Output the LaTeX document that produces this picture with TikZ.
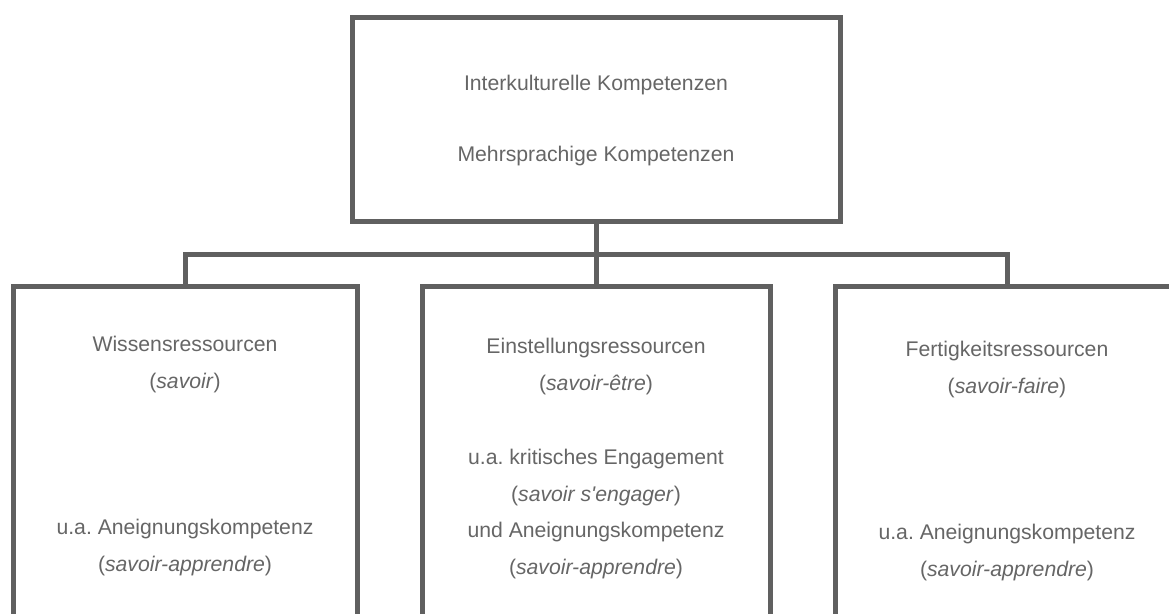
\documentclass[tikz,border=0pt]{standalone}
\usepackage{fontspec}
\newfontfamily\arialfont{Liberation Sans}
\definecolor{linegray}{RGB}{96,96,96}
\definecolor{textgray}{RGB}{102,102,102}
\frenchspacing
\begin{document}
\begin{tikzpicture}[x=1pt,y=-1pt,
  box/.style={draw=linegray,line width=5pt,fill=none,inner sep=0pt,outer sep=0pt},
  conn/.style={draw=linegray,line width=5pt},
  txt/.style={font=\arialfont\frenchspacing\fontsize{21.2}{25}\selectfont,text=textgray,anchor=base,inner sep=0pt}]
\useasboundingbox (0,0) rectangle (1169,613);
\fill[white] (0,0) rectangle (1169,613);
\clip (0,0) rectangle (1169,613);
% boxes
\node[box,minimum width=488pt,minimum height=204pt] (top) at (596,119) {};
\node[box,minimum width=344pt,minimum height=400pt] (left) at (185,486) {};
\node[box,minimum width=348pt,minimum height=400pt] (mid) at (596,486) {};
\node[box,minimum width=344pt,minimum height=400pt] (right) at (1007,486) {};
% connectors
\coordinate (bar) at (596,254);
\draw[conn] (top.south) -- (mid.north);
\draw[conn] (left.north) |- (bar) -| (right.north);
% texts top
\node[txt] (t1) at (596,90) {Interkulturelle Kompetenzen};
\node[txt] (t2) at (596,161) {Mehrsprachige Kompetenzen};
% left
\node[txt] (l1) at (185,351) {Wissensressourcen};
\node[txt] (l2) at (185,388) {(\textit{savoir})};
\node[txt] (l3) at (185,534) {u.a. Aneignungskompetenz};
\node[txt] (l4) at (185,571) {(\textit{savoir-apprendre})};
% middle
\node[txt] (m1) at (596,353) {Einstellungsressourcen};
\node[txt] (m2) at (596,390) {(\textit{savoir-être})};
\node[txt] (m3) at (596,464) {u.a. kritisches Engagement};
\node[txt] (m4) at (596,501) {(\textit{savoir s'engager})};
\node[txt] (m5) at (596,537) {und Aneignungskompetenz};
\node[txt] (m6) at (596,574) {(\textit{savoir-apprendre})};
% right
\node[txt] (r1) at (1007,356) {Fertigkeitsressourcen};
\node[txt] (r2) at (1007,393) {(\textit{savoir-faire})};
\node[txt] (r3) at (1007,539) {u.a. Aneignungskompetenz};
\node[txt] (r4) at (1007,576) {(\textit{savoir-apprendre})};
\end{tikzpicture}
\end{document}
